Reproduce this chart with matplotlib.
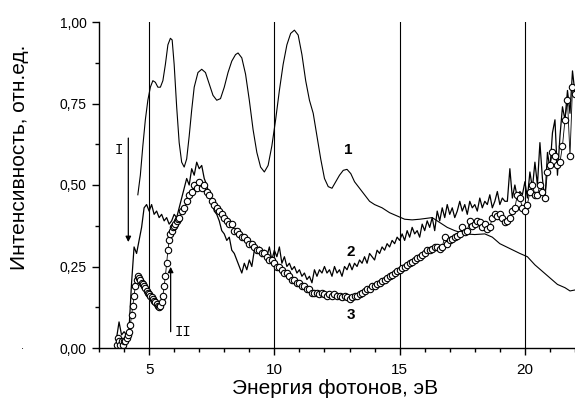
import numpy as np
import matplotlib
matplotlib.use("Agg")
import matplotlib.pyplot as plt
from matplotlib.ticker import MultipleLocator, FuncFormatter

plt.rcParams['font.family'] = ['Liberation Sans', 'DejaVu Sans']

# curve 1 - smooth spectrum
e1 = [4.55, 4.65, 4.75, 4.85, 4.95, 5.05, 5.15, 5.25, 5.35, 5.45, 5.55, 5.65,
      5.75, 5.85, 5.92, 6.00, 6.10, 6.20, 6.30, 6.40, 6.50, 6.60, 6.70, 6.80,
      6.95, 7.10, 7.25, 7.40, 7.55, 7.70, 7.85, 8.00, 8.15, 8.30, 8.45, 8.55,
      8.70, 8.85, 9.00, 9.15, 9.30, 9.45, 9.60, 9.75, 9.90, 10.05, 10.20, 10.35,
      10.50, 10.65, 10.80, 10.95, 11.10, 11.25, 11.40, 11.55, 11.70, 11.85,
      12.00, 12.15, 12.30, 12.45, 12.60, 12.75, 12.90, 13.05, 13.20, 13.40,
      13.60, 13.80, 14.00, 14.30, 14.60, 14.90, 15.20, 15.50, 15.80, 16.10,
      16.30, 16.60, 16.90, 17.20, 17.60, 18.00, 18.40, 18.70, 19.00, 19.40,
      19.80, 20.10, 20.40, 20.70, 21.00, 21.30, 21.60, 21.80, 22.00]
i1 = [0.47, 0.53, 0.62, 0.70, 0.76, 0.80, 0.82, 0.815, 0.80, 0.80, 0.82, 0.87,
      0.93, 0.95, 0.945, 0.87, 0.74, 0.63, 0.57, 0.555, 0.58, 0.65, 0.73, 0.80,
      0.845, 0.855, 0.845, 0.81, 0.775, 0.76, 0.765, 0.80, 0.845, 0.88, 0.90, 0.905,
      0.89, 0.84, 0.76, 0.67, 0.60, 0.555, 0.54, 0.56, 0.62, 0.70, 0.79, 0.87,
      0.93, 0.965, 0.975, 0.96, 0.90, 0.82, 0.76, 0.72, 0.65, 0.58,
      0.52, 0.495, 0.49, 0.51, 0.53, 0.545, 0.548, 0.535, 0.51, 0.49,
      0.47, 0.45, 0.44, 0.43, 0.415, 0.405, 0.395, 0.393, 0.395, 0.398,
      0.40, 0.385, 0.37, 0.36, 0.35, 0.348, 0.35, 0.34, 0.32, 0.305,
      0.29, 0.28, 0.255, 0.235, 0.215, 0.195, 0.185, 0.175, 0.178]

# curve 2 - noisy line, step 0.1 eV from 3.7 to 22.0
e2 = [3.7, 3.8, 3.9, 4.0, 4.1, 4.2, 4.3, 4.4, 4.5, 4.6, 4.7, 4.8, 4.9,
      5.0, 5.1, 5.2, 5.3, 5.4, 5.5, 5.6, 5.7, 5.8, 5.9,
      6.0, 6.1, 6.2, 6.3, 6.4, 6.5, 6.6, 6.7, 6.8, 6.9,
      7.0, 7.1, 7.2, 7.3, 7.4, 7.5, 7.6, 7.7, 7.8, 7.9,
      8.0, 8.1, 8.2, 8.3, 8.4, 8.5, 8.6, 8.7, 8.8, 8.9,
      9.0, 9.1, 9.2, 9.3, 9.4, 9.5, 9.6, 9.7, 9.8, 9.9,
      10.0, 10.1, 10.2, 10.3, 10.4, 10.5, 10.6, 10.7, 10.8, 10.9,
      11.0, 11.1, 11.2, 11.3, 11.4, 11.5, 11.6, 11.7, 11.8, 11.9,
      12.0, 12.1, 12.2, 12.3, 12.4, 12.5, 12.6, 12.7, 12.8, 12.9,
      13.0, 13.1, 13.2, 13.3, 13.4, 13.5, 13.6, 13.7, 13.8, 13.9,
      14.0, 14.1, 14.2, 14.3, 14.4, 14.5, 14.6, 14.7, 14.8, 14.9,
      15.0, 15.1, 15.2, 15.3, 15.4, 15.5, 15.6, 15.7, 15.8, 15.9,
      16.0, 16.1, 16.2, 16.3, 16.4, 16.5, 16.6, 16.7, 16.8, 16.9,
      17.0, 17.1, 17.2, 17.3, 17.4, 17.5, 17.6, 17.7, 17.8, 17.9,
      18.0, 18.1, 18.2, 18.3, 18.4, 18.5, 18.6, 18.7, 18.8, 18.9,
      19.0, 19.1, 19.2, 19.3, 19.4, 19.5, 19.6, 19.7, 19.8, 19.9,
      20.0, 20.1, 20.2, 20.3, 20.4, 20.5, 20.6, 20.7, 20.8, 20.9,
      21.0, 21.1, 21.2, 21.3, 21.4, 21.5, 21.6, 21.7, 21.8, 21.9, 22.0]
i2 = [0.03, 0.08, 0.04, 0.05, 0.04, 0.06, 0.20, 0.31, 0.29, 0.33, 0.37, 0.43, 0.44,
      0.42, 0.44, 0.41, 0.42, 0.40, 0.41, 0.39, 0.40, 0.38, 0.39,
      0.41, 0.40, 0.43, 0.46, 0.49, 0.52, 0.50, 0.55, 0.53, 0.57,
      0.55, 0.56, 0.52, 0.50, 0.47, 0.45, 0.42, 0.41, 0.39, 0.36,
      0.35, 0.33, 0.34, 0.30, 0.29, 0.27, 0.25, 0.23, 0.26, 0.24,
      0.27, 0.25, 0.30, 0.29, 0.31, 0.28, 0.30, 0.28, 0.31, 0.27,
      0.30, 0.28, 0.31, 0.26, 0.28, 0.25, 0.26, 0.24, 0.25, 0.23,
      0.24, 0.22, 0.23, 0.21, 0.22, 0.20, 0.24, 0.22, 0.24, 0.23,
      0.25, 0.23, 0.24, 0.22, 0.25, 0.23, 0.24, 0.22, 0.25, 0.24,
      0.26, 0.24, 0.26, 0.25, 0.27, 0.26, 0.28, 0.26, 0.29, 0.28,
      0.27, 0.30, 0.29, 0.31, 0.30, 0.32, 0.31, 0.33, 0.32, 0.34,
      0.33, 0.35, 0.33, 0.36, 0.34, 0.37, 0.35, 0.36, 0.34, 0.38,
      0.36, 0.39, 0.37, 0.40, 0.36, 0.42, 0.39, 0.43, 0.40, 0.44,
      0.41, 0.43, 0.40, 0.42, 0.45, 0.42, 0.44, 0.41, 0.45, 0.43,
      0.44, 0.42, 0.46, 0.43, 0.45, 0.44, 0.47, 0.43, 0.45, 0.48,
      0.44, 0.46, 0.45, 0.45, 0.55, 0.46, 0.50, 0.46, 0.48, 0.47,
      0.51, 0.46, 0.54, 0.49, 0.57, 0.50, 0.63, 0.52, 0.45, 0.60,
      0.55, 0.66, 0.70, 0.53, 0.65, 0.74, 0.70, 0.79, 0.72, 0.85, 0.78]

# curve 3 - circles
e3 = [3.70, 3.75, 3.80, 3.85, 3.90, 3.95, 4.00, 4.05, 4.10, 4.15, 4.20, 4.25,
      4.30, 4.35, 4.40, 4.45, 4.50, 4.55, 4.60, 4.65, 4.70, 4.75, 4.80, 4.85,
      4.90, 4.95, 5.00, 5.05, 5.10, 5.15, 5.20, 5.25, 5.30, 5.35, 5.40, 5.45,
      5.50, 5.55, 5.60, 5.65, 5.70, 5.75, 5.80, 5.85, 5.90, 5.95, 6.00, 6.05,
      6.10, 6.15, 6.20,
      6.3, 6.4, 6.5, 6.6, 6.7, 6.8, 6.9,
      7.0, 7.1, 7.2, 7.3, 7.4, 7.5, 7.6, 7.7, 7.8, 7.9,
      8.0, 8.1, 8.2, 8.3, 8.4, 8.5, 8.6, 8.7, 8.8, 8.9,
      9.0, 9.1, 9.2, 9.3, 9.4, 9.5, 9.6, 9.7, 9.8, 9.9,
      10.0, 10.1, 10.2, 10.3, 10.4, 10.5, 10.6, 10.7, 10.8, 10.9,
      11.0, 11.1, 11.2, 11.3, 11.4, 11.5, 11.6, 11.7, 11.8, 11.9,
      12.0, 12.1, 12.2, 12.3, 12.4, 12.5, 12.6, 12.7, 12.8, 12.9,
      13.0, 13.1, 13.2, 13.3, 13.4, 13.5, 13.6, 13.7, 13.8, 13.9,
      14.0, 14.1, 14.2, 14.3, 14.4, 14.5, 14.6, 14.7, 14.8, 14.9,
      15.0, 15.1, 15.2, 15.3, 15.4, 15.5, 15.6, 15.7, 15.8, 15.9,
      16.0, 16.1, 16.2, 16.3, 16.4, 16.5, 16.6, 16.7, 16.8, 16.9,
      17.0, 17.1, 17.2, 17.3, 17.4, 17.5, 17.6, 17.7, 17.8, 17.9,
      18.0, 18.1, 18.2, 18.3, 18.4, 18.5, 18.6, 18.7, 18.8, 18.9,
      19.0, 19.1, 19.2, 19.3, 19.4, 19.5, 19.6, 19.7, 19.8, 19.9,
      20.0, 20.1, 20.2, 20.3, 20.4, 20.5, 20.6, 20.7, 20.8, 20.9,
      21.0, 21.1, 21.2, 21.3, 21.4, 21.5, 21.6, 21.7, 21.8, 21.9, 22.0]
i3 = [0.01, 0.03, 0.02, 0.01, 0.02, 0.01, 0.02, 0.02, 0.03, 0.04, 0.05, 0.07,
      0.10, 0.13, 0.16, 0.19, 0.21, 0.22, 0.215, 0.21, 0.20, 0.195, 0.19, 0.185,
      0.175, 0.17, 0.165, 0.16, 0.155, 0.15, 0.145, 0.14, 0.135, 0.13, 0.125, 0.13,
      0.14, 0.16, 0.19, 0.22, 0.26, 0.30, 0.33, 0.35, 0.36, 0.37, 0.375, 0.38,
      0.39, 0.395, 0.40,
      0.42, 0.43, 0.45, 0.47, 0.48, 0.50, 0.49,
      0.51, 0.49, 0.50, 0.48, 0.47, 0.45, 0.44, 0.43, 0.42, 0.41,
      0.40, 0.39, 0.38, 0.38, 0.36, 0.36, 0.35, 0.34, 0.34, 0.33,
      0.32, 0.32, 0.31, 0.30, 0.30, 0.29, 0.29, 0.28, 0.27, 0.27,
      0.26, 0.25, 0.25, 0.24, 0.23, 0.23, 0.22, 0.21, 0.21, 0.20,
      0.20, 0.19, 0.19, 0.18, 0.18, 0.17, 0.17, 0.17, 0.165, 0.17,
      0.165, 0.16, 0.165, 0.16, 0.165, 0.16, 0.16, 0.155, 0.16, 0.155,
      0.15, 0.155, 0.16, 0.16, 0.165, 0.17, 0.175, 0.18, 0.18, 0.19,
      0.19, 0.195, 0.20, 0.205, 0.21, 0.215, 0.22, 0.225, 0.23, 0.235,
      0.24, 0.245, 0.25, 0.255, 0.26, 0.265, 0.27, 0.275, 0.28, 0.285,
      0.29, 0.30, 0.30, 0.305, 0.31, 0.31, 0.305, 0.31, 0.34, 0.32,
      0.33, 0.335, 0.34, 0.345, 0.35, 0.37, 0.355, 0.36, 0.39, 0.375,
      0.38, 0.39, 0.385, 0.37, 0.38, 0.365, 0.37, 0.40, 0.41, 0.405,
      0.41, 0.40, 0.385, 0.39, 0.40, 0.42, 0.43, 0.47, 0.46, 0.43,
      0.42, 0.44, 0.48, 0.50, 0.47, 0.47, 0.50, 0.48, 0.46, 0.54,
      0.56, 0.60, 0.59, 0.56, 0.57, 0.62, 0.70, 0.76, 0.59, 0.80, 0.78]

grid_x = [5, 10, 15, 20]

fig = plt.figure(figsize=(5.75, 4.05), dpi=100)
ax = fig.add_axes([99/575, 57/405, 476/575, 326/405])

for gx in grid_x:
    ax.plot([gx, gx], [0, 1.0], color='black', lw=0.8)

ax.plot(e1, i1, color='black', lw=0.8)
ax.plot(e2, i2, color='black', lw=0.9)
ax.plot(e3, i3, color='black', lw=0.6, marker='o', ms=4.6,
        mfc='white', mec='black', mew=0.8)

ax.set_xlim(3, 22)
ax.set_ylim(0, 1.0)
ax.spines['top'].set_visible(False)
ax.spines['right'].set_visible(False)
ax.spines['left'].set_linewidth(1.0)
ax.spines['bottom'].set_linewidth(1.0)

ax.xaxis.set_major_locator(MultipleLocator(5))
ax.xaxis.set_minor_locator(MultipleLocator(1))
ax.yaxis.set_major_locator(MultipleLocator(0.25))
ax.yaxis.set_minor_locator(MultipleLocator(0.125))
ax.yaxis.set_major_formatter(FuncFormatter(lambda v, p: f"{v:.2f}".replace('.', ',')))
ax.tick_params(axis='x', which='major', direction='out', length=5, width=1, labelsize=11, pad=6)
ax.tick_params(axis='x', which='minor', direction='out', length=3, width=1)
ax.tick_params(axis='y', which='major', direction='out', length=5, width=1, labelsize=10, pad=4)
ax.tick_params(axis='y', which='minor', direction='out', length=3, width=1)

# curve labels
ax.text(12.94, 0.607, '1', fontsize=11, fontweight='bold', ha='center', va='center')
ax.text(13.05, 0.295, '2', fontsize=11, fontweight='bold', ha='center', va='center')
ax.text(13.05, 0.10, '3', fontsize=11, fontweight='bold', ha='center', va='center')

# arrows
ax.annotate('', xy=(4.17, 0.325), xytext=(4.17, 0.644),
            arrowprops=dict(arrowstyle='-|>', color='black', lw=0.9,
                            mutation_scale=8, shrinkA=0, shrinkB=0))
ax.text(3.80, 0.607, 'I', fontsize=10, family='Liberation Mono', ha='center', va='center')
ax.annotate('', xy=(5.86, 0.249), xytext=(5.86, 0.05),
            arrowprops=dict(arrowstyle='-|>', color='black', lw=0.9,
                            mutation_scale=8, shrinkA=0, shrinkB=0))
ax.text(6.37, 0.05, 'II', fontsize=10, family='Liberation Mono', ha='center', va='center')

fig.text(20/575, 1 - 157/405, 'Интенсивность, отн.ед.', rotation=90,
         fontsize=15, ha='center', va='center')
fig.text(335/575, 1 - 388/405, 'Энергия фотонов, эВ', fontsize=15,
         ha='center', va='center')
fig.text(23/575, 1 - 346/405, '.', fontsize=8, ha='center', va='center')

fig.savefig('out.png', dpi=100)
